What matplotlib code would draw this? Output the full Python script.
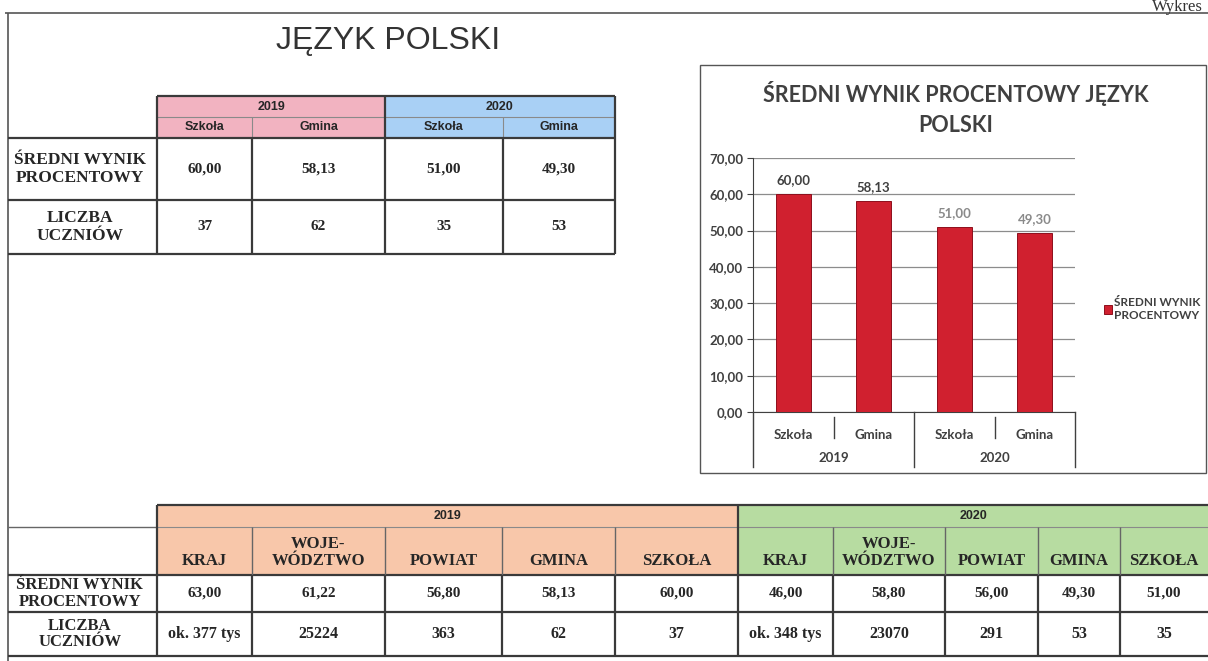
import matplotlib
matplotlib.use("Agg")
import matplotlib.pyplot as plt
from matplotlib.patches import Rectangle
from matplotlib.ticker import FuncFormatter

# --- data: small table + chart ---
page_title = "JĘZYK POLSKI"
lata = ["2019", "2020"]
kategorie = ["Szkoła", "Gmina", "Szkoła", "Gmina"]
wynik = [60.00, 58.13, 51.00, 49.30]
liczba = [37, 62, 35, 53]
row_labels = ["ŚREDNI WYNIK\nPROCENTOWY", "LICZBA\nUCZNIÓW"]
chart_title = ["ŚREDNI WYNIK PROCENTOWY JĘZYK", "POLSKI"]
legend_label = "ŚREDNI WYNIK\nPROCENTOWY"

# --- data: big table ---
poziomy = ["KRAJ", "WOJE-\nWÓDZTWO", "POWIAT", "GMINA", "SZKOŁA"]
wynik_2019 = [63.00, 61.22, 56.80, 58.13, 60.00]
liczba_2019 = ["ok. 377 tys", "25224", "363", "62", "37"]
wynik_2020 = [46.00, 58.80, 56.00, 49.30, 51.00]
liczba_2020 = ["ok. 348 tys", "23070", "291", "53", "35"]

SERIF = "Liberation Serif"
SANS = "Liberation Sans"
CHART = "Lato"
INK = "#262626"
LINE = "#3a3a3a"
GREY = "#404040"


def pl(v):
    return f"{v:.2f}".replace(".", ",")


W, H = 1208, 661
fig = plt.figure(figsize=(W / 100, H / 100), dpi=100)
page = fig.add_axes([0, 0, 1, 1])
page.set_xlim(0, W)
page.set_ylim(H, 0)
page.axis("off")


def hline(y, x0, x1, lw=1.6, color=LINE):
    page.plot([x0, x1], [y, y], color=color, lw=lw, solid_capstyle="butt")


def vline(x, y0, y1, lw=1.6, color=LINE):
    page.plot([x, x], [y0, y1], color=color, lw=lw, solid_capstyle="butt")


def cell(x0, x1, y0, y1, color):
    page.add_patch(Rectangle((x0, y0), x1 - x0, y1 - y0,
                             facecolor=color, edgecolor="none"))


def txt(x, y, s, family=SERIF, size=10.5, weight="bold", **kw):
    kw.setdefault("ha", "center")
    kw.setdefault("va", "center")
    page.text(x, y, s, fontfamily=family, fontsize=size, fontweight=weight,
              color=kw.pop("color", INK), linespacing=kw.pop("ls", 1.1), **kw)


# page frame and headings
hline(13, 5, W, lw=1.2, color="#555555")
vline(8, 13, H, lw=1.2, color="#555555")
page.text(1203, 11, "Wykres", ha="right", va="baseline", fontfamily=SERIF,
          fontsize=12, color="#333333")
txt(388, 41, page_title, family=SANS, size=23, weight="normal", color="#333333")

# --- small table ---
cols = [157, 252, 385, 503, 615]
rows = [96, 117, 138, 200, 254]
cell(cols[0], cols[2], rows[0], rows[2], "#f2b3c1")
cell(cols[2], cols[4], rows[0], rows[2], "#a9d0f5")
for i, rok in enumerate(lata):
    txt((cols[2 * i] + cols[2 * i + 2]) / 2, (rows[0] + rows[1]) / 2, rok,
        family=SANS, size=9)
for i, kat in enumerate(kategorie):
    txt((cols[i] + cols[i + 1]) / 2, (rows[1] + rows[2]) / 2, kat,
        family=SANS, size=9)
    txt((cols[i] + cols[i + 1]) / 2, (rows[2] + rows[3]) / 2, pl(wynik[i]),
        size=11)
    txt((cols[i] + cols[i + 1]) / 2, (rows[3] + rows[4]) / 2, str(liczba[i]),
        size=11)
for j, lab in enumerate(row_labels):
    txt(80, (rows[2 + j] + rows[3 + j]) / 2, lab, size=12.5, ls=1.2)

hline(rows[1], cols[0], cols[4], lw=0.8, color="#8a8a8a")
vline(cols[1], rows[1], rows[2], lw=0.8, color="#8a8a8a")
vline(cols[3], rows[1], rows[2], lw=0.8, color="#8a8a8a")
hline(rows[0], cols[0], cols[4])
for y in rows[2:]:
    hline(y, 8, cols[4])
for x in (cols[0], cols[2], cols[4]):
    vline(x, rows[0], rows[4])
for x in (cols[1], cols[3]):
    vline(x, rows[2], rows[4])

# --- big table ---
bcols = [157, 252, 385, 502, 615, 738, 833, 945, 1038, 1120, 1208]
brows = [505, 527, 575, 612, 656]
cell(bcols[0], bcols[5], brows[0], brows[2], "#f8c7aa")
cell(bcols[5], bcols[10], brows[0], brows[2], "#b7dca1")
for i, rok in enumerate(lata):
    txt((bcols[5 * i] + bcols[5 * i + 5]) / 2, (brows[0] + brows[1]) / 2, rok,
        family=SANS, size=9)
wartosci = [(wynik_2019, liczba_2019), (wynik_2020, liczba_2020)]
for g, (w_vals, l_vals) in enumerate(wartosci):
    for i, poz in enumerate(poziomy):
        c0, c1 = bcols[5 * g + i], bcols[5 * g + i + 1]
        xc = (c0 + c1) / 2
        txt(xc, 569, poz, size=12, va="bottom", ls=1.05)
        txt(xc, (brows[2] + brows[3]) / 2, pl(w_vals[i]), size=11)
        txt(xc, (brows[3] + brows[4]) / 2, l_vals[i], size=11.5)
for j, lab in enumerate(row_labels):
    txt(80, (brows[2 + j] + brows[3 + j]) / 2, lab, size=12, ls=1.05)

hline(brows[0], bcols[0], W)
hline(brows[1], 8, bcols[0], lw=1.0, color="#666666")
hline(brows[1], bcols[0], W, lw=0.8, color="#8a8a8a")
for y in brows[2:]:
    hline(y, 8, W)
for x in (bcols[0], bcols[5]):
    vline(x, brows[0], brows[4])
for x in bcols[1:5] + bcols[6:10]:
    vline(x, brows[1], brows[2], lw=1.0, color="#666666")
    vline(x, brows[2], brows[4])

# --- chart ---
page.add_patch(Rectangle((700, 65), 506, 408, facecolor="none",
                         edgecolor="#555555", lw=1.0))
for k, line in enumerate(chart_title):
    txt(956, 93 + 33 * k, line, family=CHART, size=15.5, color=GREY)

ax = fig.add_axes([753 / W, 1 - 412 / H, (1075 - 753) / W, (412 - 158) / H])
x = list(range(len(wynik)))
bars = ax.bar(x, wynik, width=0.43, color="#d0202f", edgecolor="#8e0f1c",
              linewidth=0.7, label=legend_label, zorder=3)
ax.set_xlim(-0.5, 3.5)
ax.set_ylim(0, 70)
ax.set_yticks(range(0, 71, 10))
ax.yaxis.set_major_formatter(FuncFormatter(lambda v, p: pl(v)))
ax.grid(axis="y", color="#8c8c8c", lw=0.9, zorder=0)
for side in ("top", "right"):
    ax.spines[side].set_visible(False)
for side in ("left", "bottom"):
    ax.spines[side].set_color(GREY)
ax.set_xticks(x, kategorie)
ax.tick_params(axis="x", length=0, pad=12, labelsize=9.5, labelcolor=GREY)
ax.tick_params(axis="y", direction="out", length=4, color=GREY,
               labelsize=9.5, labelcolor=GREY, pad=3)
for lbl in ax.get_xticklabels() + ax.get_yticklabels():
    lbl.set_fontfamily(CHART)
    lbl.set_fontweight("bold")

label_colors = [GREY, GREY, "#8a8a8a", "#8a8a8a"]
for xi, v, c in zip(x, wynik, label_colors):
    ax.annotate(pl(v), (xi, v), xytext=(0, 6), textcoords="offset points",
                ha="center", va="bottom", fontsize=9.5, color=c,
                fontfamily=CHART, fontweight="bold")

tr = ax.get_xaxis_transform()
for xs, ys in [(-0.5, -0.217), (1.5, -0.217), (3.5, -0.217),
               (0.5, -0.102), (2.5, -0.102)]:
    y0 = 0 if ys < -0.2 else -0.02
    ax.plot([xs, xs], [y0, ys], transform=tr, clip_on=False,
            color=GREY, lw=1.0)
for i, rok in enumerate(lata):
    ax.text(0.5 + 2 * i, -0.181, rok, transform=tr, ha="center", va="center",
            fontsize=9.5, color=GREY, fontfamily=CHART, fontweight="bold")

leg = fig.legend(handles=[bars], labels=[legend_label], loc="center left",
                 bbox_to_anchor=(1093 / W, 1 - 309 / H), frameon=False,
                 handlelength=0.7, handleheight=0.7, handletextpad=0.15,
                 prop={"family": CHART, "weight": "bold", "size": 8.5})
for t in leg.get_texts():
    t.set_multialignment("center")
    t.set_color(GREY)

fig.savefig("out.png", dpi=100)
